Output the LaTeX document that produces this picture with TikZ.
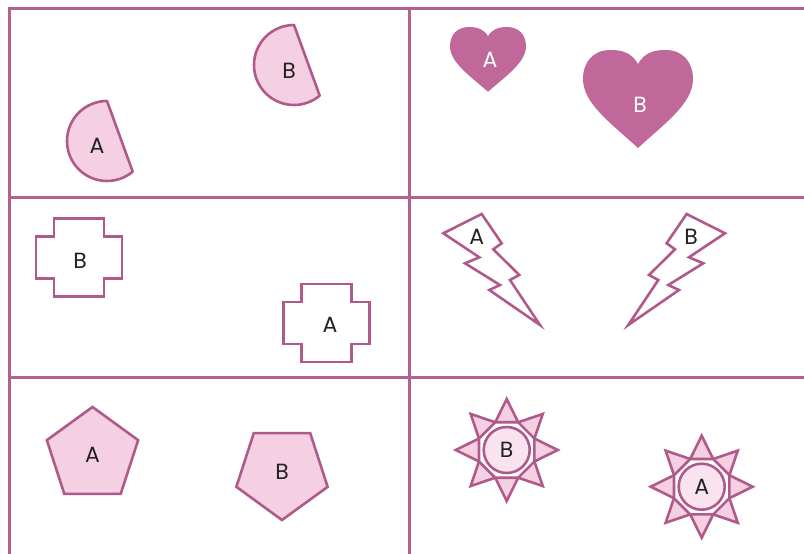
\documentclass[tikz,border=0pt]{standalone}
\usepackage{fontspec}
\setmainfont{Poppins}
\usepackage{tikz}
\usetikzlibrary{shapes.geometric}
\usepackage{xcolor}
\definecolor{gridline}{HTML}{B3628F}
\definecolor{shapeline}{HTML}{B05A8B}
\definecolor{heartfill}{HTML}{C0689A}
\definecolor{softpink}{HTML}{F5D0E3}
\definecolor{palepink}{HTML}{F9E3EE}
\definecolor{labeltext}{HTML}{222222}

\tikzset{
  heart/.pic={
    \fill[heartfill] (0,0.25) .. controls (-0.12,0.04) and (-0.3,0) .. (-0.5,0)
      .. controls (-0.82,0) and (-1,0.22) .. (-1,0.52)
      .. controls (-1,0.95) and (-0.5,1.3) .. (0,1.75)
      .. controls (0.5,1.3) and (1,0.95) .. (1,0.52)
      .. controls (1,0.22) and (0.82,0) .. (0.5,0)
      .. controls (0.3,0) and (0.12,0.04) .. (0,0.25) -- cycle;
  }
}

\begin{document}
\begin{tikzpicture}[x=1pt, y=-1pt,
      every node/.style={font=\fontsize{22}{24}\selectfont, text=labeltext, inner sep=0pt},
      outline/.style={draw=shapeline, line width=2.6pt, line join=round},
      gridrule/.style={draw=gridline, line width=3pt}
    ]
      \useasboundingbox (0,0) rectangle (804,554);

      % Grid
      \draw[gridrule] (804,8) -- (9,8) -- (9,554);
      \draw[gridrule] (409,8) -- (409,554);
      \foreach \gy in {197,377} \draw[gridrule] (9,\gy) -- (804,\gy);

      % Half discs
      \foreach \nm/\cx/\cy/\lx/\ly in {A/107/141/97/146, B/294/65/289/71}{
        \draw[outline, fill=softpink] (\cx,\cy) ++(-90:40)
          arc[start angle=-90, end angle=-310, radius=40] -- cycle;
        \node (disc\nm) at (\lx,\ly) {\nm};
      }

      % Hearts
      \pic[xscale=38, yscale=37] at (488,27) {heart};
      \pic[xscale=55, yscale=56] at (638,50) {heart};
      \node[text=white] (heartA) at (490,60) {A};
      \node[text=white] (heartB) at (640,105) {B};

      % Crosses
      \foreach \nm/\cx/\cy/\lx/\ly in {B/79/257.5/80/261, A/326.5/323/330/325}{
        \draw[outline, line join=miter, fill=white, shift={(\cx,\cy)}]
          (-25,-39) -- (25,-39) -- (25,-21) -- (43,-21) -- (43,21) -- (25,21)
          -- (25,39) -- (-25,39) -- (-25,21) -- (-43,21) -- (-43,-21) -- (-25,-21) -- cycle;
        \node (cross\nm) at (\lx,\ly) {\nm};
      }

      % Bolts
      \foreach \flip/\shx in {1/0, -1/1168.3}{
        \draw[outline, line join=miter, fill=white, shift={(\shx,0)}, xscale=\flip]
          (481.7,214) -- (501.7,243.3) -- (493.3,249.3) -- (519.3,275) -- (510,280)
          -- (540,325) -- (489.3,290) -- (500,285) -- (465,263.3) -- (479.3,257.3)
          -- (443.3,233.3) -- cycle;
      }
      \node (boltA) at (476.7,237) {A};
      \node (boltB) at (691,237) {B};

      % Pentagons
      \node[outline, line join=miter, fill=softpink, regular polygon, regular polygon sides=5,
            minimum size=96pt] (pentA) at (92.5,455) {A};
      \node[outline, line join=miter, fill=softpink, regular polygon, regular polygon sides=5,
            shape border rotate=180, minimum size=96pt] (pentB) at (282,472) {B};

      % Suns
      \foreach \nm/\cx/\cy in {B/506.7/450, A/701.7/486.7}{
        \node[outline, line join=miter, fill=softpink, star, star points=8,
              star point ratio=1.7, minimum size=102pt] (star\nm) at (\cx,\cy) {};
        \node[outline, fill=white, regular polygon, regular polygon sides=8,
              minimum size=60pt] (ring\nm) at (\cx,\cy) {};
        \node[outline, fill=palepink, circle, minimum size=46pt] (sun\nm) at (\cx,\cy) {\nm};
      }
    \end{tikzpicture}
\end{document}
